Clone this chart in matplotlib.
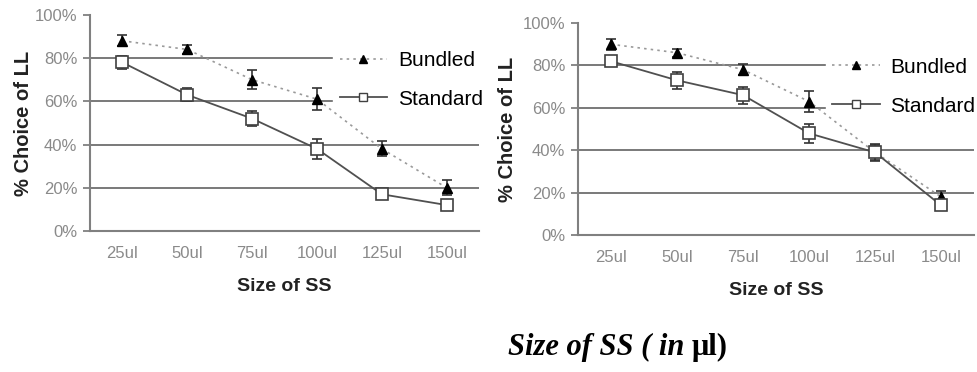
import matplotlib
matplotlib.use("Agg")
import matplotlib.pyplot as plt
from matplotlib.lines import Line2D
from matplotlib.ticker import PercentFormatter

plt.rcParams['font.family'] = ['Liberation Sans', 'DejaVu Sans']

sizes = ["25ul", "50ul", "75ul", "100ul", "125ul", "150ul"]

# Panel A
bundled_a = [88, 84, 70, 61, 38, 20]
bundled_a_err = [2.5, 2, 4.5, 5, 3.5, 3.5]
standard_a = [78, 63, 52, 38, 17, 12]
standard_a_err = [3, 3, 3.5, 4.5, 2, 1]

# Panel B
bundled_b = [90, 86, 78, 63, 39, 18]
bundled_b_err = [2.5, 2, 2.5, 5, 3.5, 3]
standard_b = [82, 73, 66, 48, 39, 14]
standard_b_err = [2, 4, 4, 4.5, 4, 2]

yticks = [0, 20, 40, 60, 80, 100]
series_names = ["Bundled", "Standard"]

TICK_GRAY = "#8a8a8a"
AXIS_GRAY = "#808080"
GRID_GRAY = "#6e6e6e"

fig = plt.figure(figsize=(9.78, 3.72), dpi=100)


def draw_panel(rect, bundled, bundled_err, standard, standard_err, legend_x, ylabelpad):
    ax = fig.add_axes(rect)
    x = list(range(len(sizes)))

    ax.errorbar(x, bundled, yerr=bundled_err, color="#9a9a9a", ls=(0, (1.5, 2.5)),
                lw=1.2, marker="^", ms=7, mfc="black", mec="black",
                ecolor="#333333", elinewidth=1.2, capsize=3.5, capthick=1.2, zorder=4)
    ax.errorbar(x, standard, yerr=standard_err, color="#505050", ls="-",
                lw=1.3, marker="s", ms=8, mfc="white", mec="#404040", mew=1.2,
                ecolor="#333333", elinewidth=1.2, capsize=3.5, capthick=1.2, zorder=5)

    ax.set_xlim(-0.5, len(sizes) - 0.5)
    ax.set_ylim(0, 100)
    ax.set_yticks(yticks)
    ax.yaxis.set_major_formatter(PercentFormatter(decimals=0))
    ax.set_xticks(x)
    ax.set_xticklabels(sizes)

    for y in yticks[1:-1]:
        ax.axhline(y, color=GRID_GRAY, lw=1.3, zorder=1)

    for side in ("top", "right"):
        ax.spines[side].set_visible(False)
    for side in ("left", "bottom"):
        ax.spines[side].set_color(AXIS_GRAY)
        ax.spines[side].set_linewidth(1.5)

    ax.tick_params(axis="y", length=5, width=1.3, color=AXIS_GRAY, pad=4,
                   labelsize=12, labelcolor=TICK_GRAY)
    ax.tick_params(axis="x", length=0, pad=11, labelsize=12, labelcolor=TICK_GRAY)

    ax.set_xlabel("Size of SS", fontsize=14, fontweight="bold", color="#222222", labelpad=12)
    ax.set_ylabel("% Choice of LL", fontsize=14.5, fontweight="bold", color="#222222",
                  labelpad=ylabelpad)

    handles = [
        Line2D([], [], color="#9a9a9a", ls=(0, (1.5, 2.5)), lw=1.2, marker="^", ms=6,
               mfc="black", mec="black"),
        Line2D([], [], color="#505050", ls="-", lw=1.3, marker="s", ms=6,
               mfc="white", mec="#404040"),
    ]
    leg = ax.legend(handles, series_names, loc="center left",
                    bbox_to_anchor=(legend_x, 0.70), frameon=True, fontsize=15,
                    handlelength=2.3, handletextpad=0.5, labelspacing=0.95,
                    borderpad=0.3, borderaxespad=0, framealpha=1, fancybox=False)
    leg.get_frame().set_edgecolor("white")
    leg.get_frame().set_facecolor("white")
    leg.set_zorder(3)
    return ax


draw_panel([0.092, 0.379, 0.398, 0.581], bundled_a, bundled_a_err,
           standard_a, standard_a_err, 0.625, 1)
draw_panel([0.591, 0.368, 0.405, 0.570], bundled_b, bundled_b_err,
           standard_b, standard_b_err, 0.625, 4)

# Caption: italic words followed by the upright unit
caption = fig.text(0.519, 0.028, "Size of SS ( in ", fontsize=22,
                   family="Liberation Serif", style="italic", weight="bold",
                   va="bottom", ha="left")
fig.canvas.draw()
bb = caption.get_window_extent()
fig.text(bb.x1 / fig.bbox.width, bb.y0 / fig.bbox.height, "μl)", fontsize=22,
         family="Liberation Serif", weight="bold", va="bottom", ha="left")

fig.savefig("out.png", dpi=100)
